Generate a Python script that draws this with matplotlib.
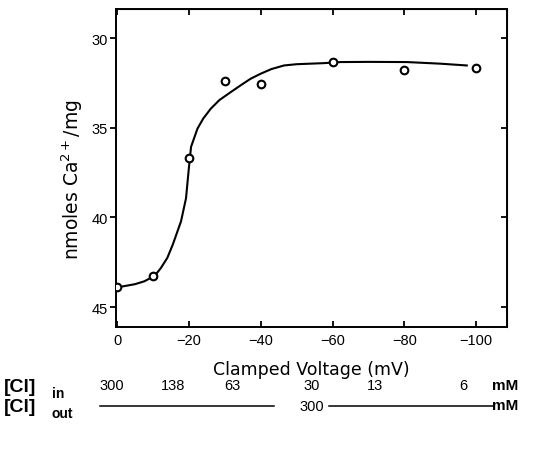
import matplotlib
matplotlib.use("Agg")
import matplotlib.pyplot as plt

# ---- data ----
voltage = [0, -10, -20, -30, -40, -60, -80, -100]
calcium = [43.9, 43.25, 36.7, 32.4, 32.55, 31.3, 31.8, 31.67]

# hand-drawn fitted curve
curve_v = [-0.5, -2.0, -5.0, -7.6, -10.5, -12.2, -14.0, -15.5, -17.8, -19.2, -19.9,
           -20.6, -22.4, -24.0, -26.1, -28.5, -31.7, -35.0, -37.2, -40.0, -43.0,
           -46.5, -50.0, -57.6, -62.2, -70.0, -80.7, -90.0, -97.4]
curve_ca = [43.88, 43.83, 43.72, 43.56, 43.25, 42.82, 42.25, 41.52, 40.22, 38.93, 37.44,
            36.06, 35.04, 34.48, 33.93, 33.45, 33.0, 32.55, 32.26, 31.98, 31.72,
            31.52, 31.45, 31.39, 31.33, 31.32, 31.33, 31.42, 31.52]

x_ticks = [0, -20, -40, -60, -80, -100]
x_ticklabels = ["0", "\u221220", "\u221240", "\u221260", "\u221280", "\u2212100"]
y_ticks = [30, 35, 40, 45]

cl_in = ["300", "138", "63", "30", "13", "6"]
cl_out = "300"

plt.rcParams['font.family'] = ['Liberation Sans', 'DejaVu Sans']

W, H = 538, 456
fig = plt.figure(figsize=(W / 100, H / 100), dpi=100)
ax = fig.add_axes([116 / W, 1 - 328 / H, (507 - 116) / W, (328 - 10) / H])

ax.plot(curve_v, curve_ca, color="black", lw=1.5, zorder=2)
ax.plot(voltage, calcium, linestyle="none", marker="o", markersize=5.5,
        markerfacecolor="white", markeredgecolor="black", markeredgewidth=1.5, zorder=3)

ax.set_xlim(0.3, -108.6)
ax.set_ylim(46.11, 28.37)

ax.set_xticks(x_ticks)
ax.set_xticklabels(x_ticklabels)
ax.set_yticks(y_ticks)

for s in ax.spines.values():
    s.set_linewidth(1.4)

ax.tick_params(axis="both", which="major", labelsize=10.5, length=4, width=1.3, pad=2)
ax.tick_params(axis="y", direction="out", right=False)
ax.tick_params(axis="x", direction="in", top=False, pad=4)

# inward ticks on top and right
axt = ax.secondary_xaxis("top")
axt.set_xticks(x_ticks)
axt.tick_params(direction="in", length=4, width=1.3, labeltop=False)
axr = ax.secondary_yaxis("right")
axr.set_yticks(y_ticks)
axr.tick_params(direction="in", length=4, width=1.3, labelright=False)

ax.set_xlabel("Clamped Voltage (mV)", fontsize=12.5, family="DejaVu Sans", labelpad=10)
ax.set_ylabel("nmoles Ca$^{2+}$/mg", fontsize=13.5, family="DejaVu Sans")
ax.yaxis.set_label_coords((85 - 116) / 391, (328 - 180) / 318)

# ---- chloride annotation rows ----
def ftxt(x, y, s, **kw):
    fig.text(x / W, 1 - y / H, s, **kw)

ftxt(4, 387, "[Cl]", fontsize=14, fontweight="bold", va="center", ha="left")
ftxt(52, 394, "in", fontsize=10, fontweight="bold", va="center", ha="left")
in_x = [112, 173, 232, 312, 375, 463]
for xx, s in zip(in_x, cl_in):
    ftxt(xx, 386, s, fontsize=10.5, va="center", ha="center")
ftxt(492, 386, "mM", fontsize=11, fontweight="bold", va="center", ha="left")

ftxt(4, 408, "[Cl]", fontsize=14, fontweight="bold", va="center", ha="left")
ftxt(52, 414, "out", fontsize=10, fontweight="bold", va="center", ha="left")
ftxt(312, 407, cl_out, fontsize=10.5, va="center", ha="center")
fig.add_artist(plt.Line2D([100 / W, 274 / W], [1 - 407 / H, 1 - 407 / H], color="black", lw=1.1))
fig.add_artist(plt.Line2D([329 / W, 493 / W], [1 - 407 / H, 1 - 407 / H], color="black", lw=1.1))
ftxt(492, 406, "mM", fontsize=11, fontweight="bold", va="center", ha="left")

fig.savefig("out.png", dpi=100, facecolor="white")
